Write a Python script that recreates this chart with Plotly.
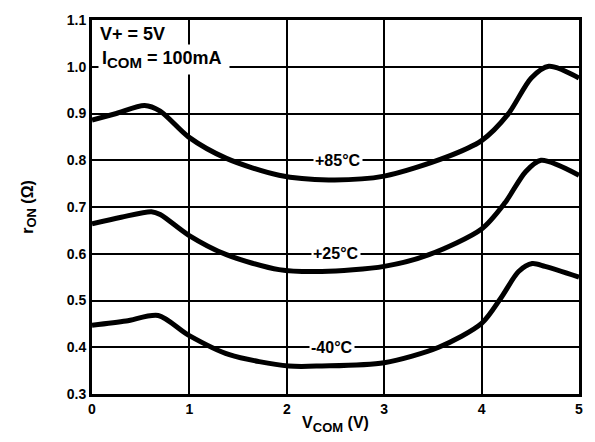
import plotly.graph_objects as go

# On-resistance vs. common-node voltage, V+ = 5V, I_COM = 100mA
v_85 = [0.0, 0.25, 0.54, 0.70, 0.99, 1.38, 1.92, 2.43, 3.0, 3.63, 4.0, 4.27, 4.51, 4.69, 5.0]
r_85 = [0.886, 0.900, 0.917, 0.905, 0.850, 0.804, 0.768, 0.758, 0.766, 0.806, 0.842, 0.898, 0.976, 1.001, 0.976]

v_25 = [0.0, 0.30, 0.61, 0.70, 0.99, 1.38, 1.92, 2.36, 3.0, 3.46, 4.0, 4.24, 4.45, 4.61, 5.0]
r_25 = [0.664, 0.678, 0.690, 0.684, 0.640, 0.598, 0.566, 0.562, 0.573, 0.598, 0.653, 0.709, 0.775, 0.800, 0.768]

v_m40 = [0.0, 0.35, 0.68, 0.99, 1.41, 2.02, 2.36, 3.0, 3.56, 4.0, 4.2, 4.38, 4.52, 4.65, 5.0]
r_m40 = [0.447, 0.456, 0.468, 0.426, 0.384, 0.360, 0.360, 0.367, 0.400, 0.451, 0.506, 0.562, 0.579, 0.573, 0.550]

curve_labels = ["+85°C", "+25°C", "-40°C"]
label_pos = [(2.53, 0.8), (2.50, 0.6), (2.46, 0.4)]

font_family = "Liberation Sans, Arial, sans-serif"
bold = dict(family=font_family, color="black", weight="bold")


def sub(s, px):
    return f"<sub><span style='font-size:{px}px'>{s}</span></sub>"


fig = go.Figure()
for vx, ry in [(v_85, r_85), (v_25, r_25), (v_m40, r_m40)]:
    fig.add_trace(go.Scatter(
        x=vx, y=ry, mode="lines",
        line=dict(color="black", width=5, shape="spline", smoothing=0.8),
        showlegend=False, hoverinfo="skip",
    ))

for text, (lx, ly) in zip(curve_labels, label_pos):
    fig.add_annotation(
        x=lx, y=ly, text=text, showarrow=False,
        bgcolor="white", borderpad=1,
        font=dict(size=16, **bold),
    )

fig.add_annotation(
    xref="paper", yref="paper", x=0.012, y=0.995, xanchor="left", yanchor="top",
    text="V+ = 5V", showarrow=False, bgcolor="white", borderpad=1,
    font=dict(size=18, **bold),
)
fig.add_annotation(
    xref="paper", yref="paper", x=0.012, y=0.935, xanchor="left", yanchor="top",
    text="I" + sub("COM", 15) + " = 100mA ", showarrow=False, bgcolor="white",
    borderpad=3,
    font=dict(size=18, **bold),
)

axis_common = dict(
    showgrid=True, gridcolor="black", gridwidth=2,
    showline=True, linecolor="black", linewidth=3, mirror=True,
    zeroline=False, ticks="",
    tickfont=dict(size=14, **bold),
)

fig.update_xaxes(
    range=[0, 5], tickvals=[0, 1, 2, 3, 4, 5], ticktext=["0", "1", "2", "3", "4", "5"],
    title=dict(text="V" + sub("COM", 13) + " (V)", standoff=2, font=dict(size=16, **bold)),
    **axis_common,
)
fig.update_yaxes(
    range=[0.3, 1.1], tickvals=[0.3, 0.4, 0.5, 0.6, 0.7, 0.8, 0.9, 1.0, 1.1],
    tickformat=".1f",
    title=dict(text="r" + sub("ON", 13) + " (Ω)", standoff=30, font=dict(size=16, **bold)),
    **axis_common,
)

fig.update_layout(
    width=595, height=442,
    margin=dict(l=92, r=14, t=14, b=46),
    plot_bgcolor="white", paper_bgcolor="white",
)

fig.write_html("out.html")
